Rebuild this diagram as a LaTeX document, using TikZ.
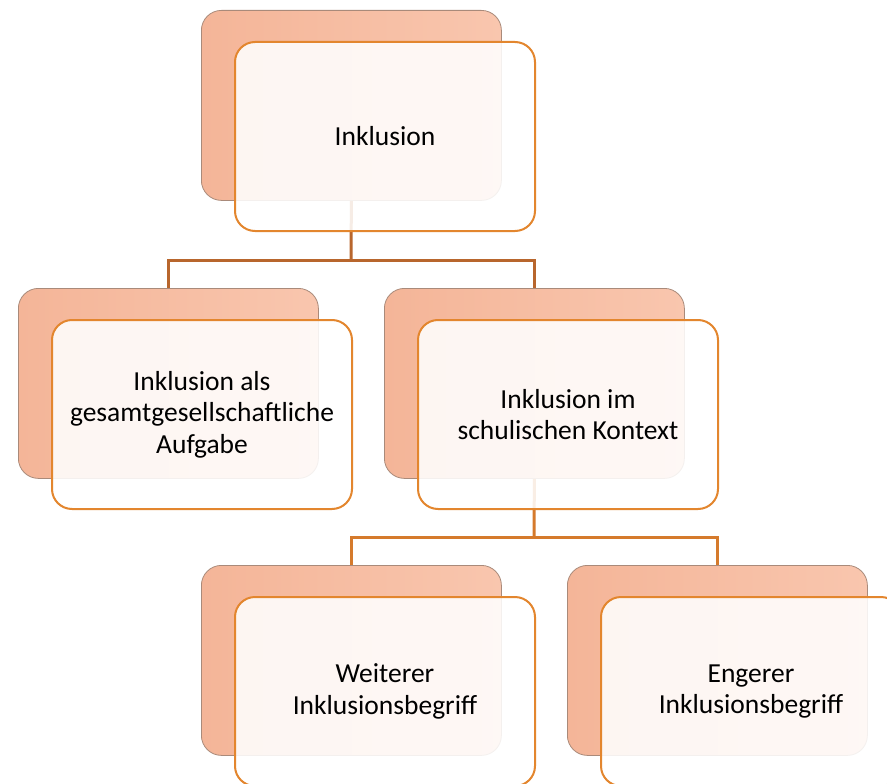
\documentclass[tikz,border=0pt]{standalone}
\usepackage{fontspec}
\setmainfont{Carlito}
\definecolor{backL}{HTML}{F4B598}
\definecolor{backR}{HTML}{F9C6AE}
\definecolor{backedge}{HTML}{A98A7A}
\definecolor{frontedge}{HTML}{E3862E}
\definecolor{connA}{HTML}{B8662D}
\definecolor{connB}{HTML}{D57A2C}
\tikzset{
  backbox/.style={rectangle, rounded corners=20pt, minimum width=300pt, minimum height=190pt,
    inner sep=0pt, anchor=north west, left color=backL, right color=backR,
    draw=backedge, line width=0.8pt},
  frontbox/.style={rectangle, rounded corners=20pt, minimum width=300pt, minimum height=189pt,
    inner sep=0pt, anchor=north west, fill=white, fill opacity=0.88, text opacity=1,
    draw=frontedge, draw opacity=1, line width=2pt, align=center,
    font=\fontsize{27.5}{31.5}\selectfont},
  connA/.style={draw=connA, line width=3pt},
  connB/.style={draw=connB, line width=3pt}
}
\begin{document}
\begin{tikzpicture}[x=1pt,y=-1pt]
\useasboundingbox (0,0) rectangle (887,784);
% back boxes
\node[backbox] (Ab) at (201,10) {};
\node[backbox] (Bb) at (18,288) {};
\node[backbox] (Cb) at (384,288) {};
\node[backbox] (Db) at (201,565) {};
\node[backbox] (Eb) at (567,565) {};
% connectors
\coordinate (jA) at (351,260);
\coordinate (jC) at (534,537);
\draw[connA] (Ab.south) -- (jA);
\draw[connA] (Bb.north) |- (jA) -| (Cb.north);
\draw[connB] (Cb.south) -- (jC);
\draw[connB] (Db.north) |- (jC) -| (Eb.north);
% front boxes
\node[frontbox] (A) at (234,41) {Inklusion};
\node[frontbox] (B) at (51,319) {Inklusion als\\gesamtgesellschaftliche\\Aufgabe};
\node[frontbox] (C) at (417,319) {Inklusion im\\schulischen Kontext};
\node[frontbox] (D) at (234,596) {Weiterer\\Inklusionsbegriff};
\node[frontbox] (E) at (600,596) {Engerer\\Inklusionsbegriff};
\end{tikzpicture}
\end{document}
